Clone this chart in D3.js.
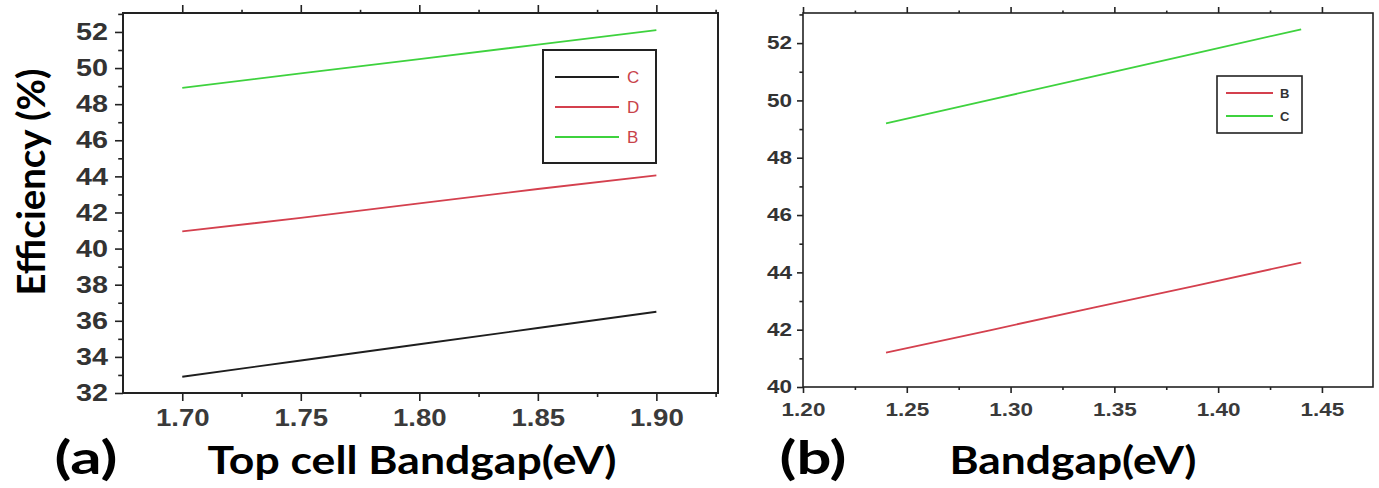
<!DOCTYPE html>
<html>
<head>
<meta charset="utf-8">
<script src="https://cdn.jsdelivr.net/npm/d3@7"></script>
<style>
body { margin: 0; background: #fff; }
svg { display: block; }
</style>
</head>
<body>
<script>
// panel (a): top cell bandgap vs efficiency
var gapA = [1.70, 1.75, 1.80, 1.85, 1.90];
var effA_C = [32.9, 33.8, 34.7, 35.6, 36.5];
var effA_D = [40.95, 41.7, 42.5, 43.3, 44.05];
var effA_B = [48.9, 49.7, 50.5, 51.3, 52.1];
var xTicksA = [1.70, 1.75, 1.80, 1.85, 1.90];
var yTicksA = [32, 34, 36, 38, 40, 42, 44, 46, 48, 50, 52];

// panel (b): bandgap vs efficiency
var gapB = [1.24, 1.29, 1.34, 1.39, 1.44];
var effB_B = [41.2, 41.98, 42.77, 43.55, 44.34];
var effB_C = [49.2, 50.02, 50.84, 51.66, 52.48];
var xTicksB = [1.20, 1.25, 1.30, 1.35, 1.40, 1.45];
var yTicksB = [40, 42, 44, 46, 48, 50, 52];

var W = 1379, H = 488;
var svg = d3.select('body').append('svg').attr('width', W).attr('height', H);

function stretchText(sel, sx) {
    sel.selectAll('text').each(function() {
        var t = d3.select(this);
        var x = +t.attr('x') || 0;
        t.attr('x', 0).attr('transform', 'translate(' + x + ',0) scale(' + sx + ',1)');
    });
}

function drawPanel(cfg) {
    var g = svg.append('g');
    var x = d3.scaleLinear().domain(cfg.xDomain).range([cfg.left, cfg.right]);
    var y = d3.scaleLinear().domain(cfg.yDomain).range([cfg.bottom, cfg.top]);

    // minor ticks halfway between majors
    var xMinor = [], yMinor = [];
    for (var i = 0; i < cfg.xTicks.length; i++) {
        var mx = cfg.xTicks[i] + 0.025;
        if (mx < cfg.xDomain[1]) xMinor.push(mx);
        if (i == 0 && cfg.xTicks[0] - 0.025 > cfg.xDomain[0]) xMinor.push(cfg.xTicks[0] - 0.025);
    }
    for (var j = 0; j < cfg.yTicks.length; j++) {
        if (cfg.yTicks[j] + 1 < cfg.yDomain[1]) yMinor.push(cfg.yTicks[j] + 1);
    }

    var bottomAxis = g.append('g').attr('transform', 'translate(0,' + cfg.bottom + ')')
        .call(d3.axisBottom(x).tickValues(cfg.xTicks).tickFormat(d3.format('.2f'))
            .tickSize(cfg.tick).tickPadding(cfg.xPad));
    g.append('g').attr('transform', 'translate(0,' + cfg.bottom + ')')
        .call(d3.axisBottom(x).tickValues(xMinor).tickFormat('').tickSize(cfg.tick / 2));
    g.append('g').attr('transform', 'translate(0,' + cfg.top + ')')
        .call(d3.axisTop(x).tickValues(cfg.xTicks).tickFormat('').tickSize(cfg.tick));
    g.append('g').attr('transform', 'translate(0,' + cfg.top + ')')
        .call(d3.axisTop(x).tickValues(xMinor).tickFormat('').tickSize(cfg.tick / 2.5));
    var leftAxis = g.append('g').attr('transform', 'translate(' + cfg.left + ',0)')
        .call(d3.axisLeft(y).tickValues(cfg.yTicks).tickFormat(d3.format('d'))
            .tickSize(cfg.tick).tickPadding(cfg.yPad));
    g.append('g').attr('transform', 'translate(' + cfg.left + ',0)')
        .call(d3.axisLeft(y).tickValues(yMinor).tickFormat('').tickSize(cfg.tick * 0.6));

    g.selectAll('.domain').remove();
    g.selectAll('.tick line').attr('stroke', '#222').attr('stroke-width', 1.6);

    bottomAxis.selectAll('text').attr('font-family', 'Liberation Sans, Arial, sans-serif')
        .attr('font-weight', 'bold').attr('font-size', cfg.xFont).attr('fill', '#3a3a3a');
    leftAxis.selectAll('text').attr('font-family', 'Liberation Sans, Arial, sans-serif')
        .attr('font-weight', 'bold').attr('font-size', cfg.yFont).attr('fill', '#333');
    stretchText(bottomAxis, cfg.stretch);
    stretchText(leftAxis, cfg.stretch);

    // frame
    g.append('rect')
        .attr('x', cfg.left).attr('y', cfg.top)
        .attr('width', cfg.right - cfg.left).attr('height', cfg.bottom - cfg.top)
        .attr('fill', 'none').attr('stroke', '#222').attr('stroke-width', cfg.frameW);

    var line = d3.line()
        .x(function(d) { return x(d[0]); })
        .y(function(d) { return y(d[1]); });

    cfg.series.forEach(function(s) {
        g.append('path')
            .attr('d', line(d3.zip(cfg.xs, s.values)))
            .attr('fill', 'none')
            .attr('stroke', s.color)
            .attr('stroke-width', 1.8);
    });

    // legend
    var lg = cfg.legend;
    g.append('rect')
        .attr('x', lg.x).attr('y', lg.y).attr('width', lg.w).attr('height', lg.h)
        .attr('fill', '#fff').attr('stroke', '#222').attr('stroke-width', lg.strokeW);
    cfg.series.forEach(function(s, k) {
        var ly = lg.y + lg.first + k * lg.step;
        g.append('line')
            .attr('x1', lg.x + lg.lx1).attr('x2', lg.x + lg.lx2)
            .attr('y1', ly).attr('y2', ly)
            .attr('stroke', s.color).attr('stroke-width', 2);
        g.append('text')
            .attr('x', lg.x + lg.tx).attr('y', ly).attr('dy', '0.36em')
            .attr('font-family', 'Liberation Sans, Arial, sans-serif')
            .attr('font-size', lg.font).attr('font-weight', lg.weight)
            .attr('fill', lg.textColor)
            .text(s.name);
    });
}

var green = '#3ed23e', red = '#d4404e', black = '#1e1e1e';

drawPanel({
    left: 123, right: 718, top: 13, bottom: 393,
    xDomain: [1.675, 1.926], yDomain: [32, 53.05],
    xTicks: xTicksA, yTicks: yTicksA, xs: gapA,
    tick: 8, xPad: 9, yPad: 7, xFont: 23, yFont: 24, stretch: 1.2, frameW: 2,
    series: [
        { name: 'C', values: effA_C, color: black },
        { name: 'D', values: effA_D, color: red },
        { name: 'B', values: effA_B, color: green }
    ],
    legend: { x: 543, y: 50, w: 113, h: 113, strokeW: 2, first: 27, step: 30,
              lx1: 12, lx2: 76, tx: 84, font: 17, weight: 'normal', textColor: '#c8424a' }
});

drawPanel({
    left: 803, right: 1373, top: 13, bottom: 387,
    xDomain: [1.20, 1.4746], yDomain: [40, 53.05],
    xTicks: xTicksB, yTicks: yTicksB, xs: gapB,
    tick: 6, xPad: 10, yPad: 5, xFont: 18, yFont: 18, stretch: 1.25, frameW: 1.6,
    series: [
        { name: 'B', values: effB_B, color: red },
        { name: 'C', values: effB_C, color: green }
    ],
    legend: { x: 1217, y: 76, w: 85, h: 57, strokeW: 1.6, first: 17, step: 23,
              lx1: 9, lx2: 56, tx: 63, font: 13, weight: 'bold', textColor: '#333' }
});

// titles (stretched to the widths seen in the figure)
var titleFont = 'Lato, Open Sans, sans-serif';
function title(txt, x, y, size, len, rot) {
    return svg.append('text')
        .attr('transform', 'translate(' + x + ',' + y + ')' + (rot ? ' rotate(-90)' : ''))
        .attr('text-anchor', 'middle')
        .attr('font-family', titleFont).attr('font-weight', 'bold').attr('font-size', size)
        .attr('textLength', len).attr('lengthAdjust', 'spacingAndGlyphs')
        .text(txt);
}
title('Efficiency (%)', 45, 182, 39, 227, true);
title('(a)', 86, 474, 45, 63);
title('Top cell Bandgap(eV)', 412, 474, 39, 409);
title('(b)', 813, 474, 45, 67);
title('Bandgap(eV)', 1073, 474, 39, 247);
</script>
</body>
</html>
